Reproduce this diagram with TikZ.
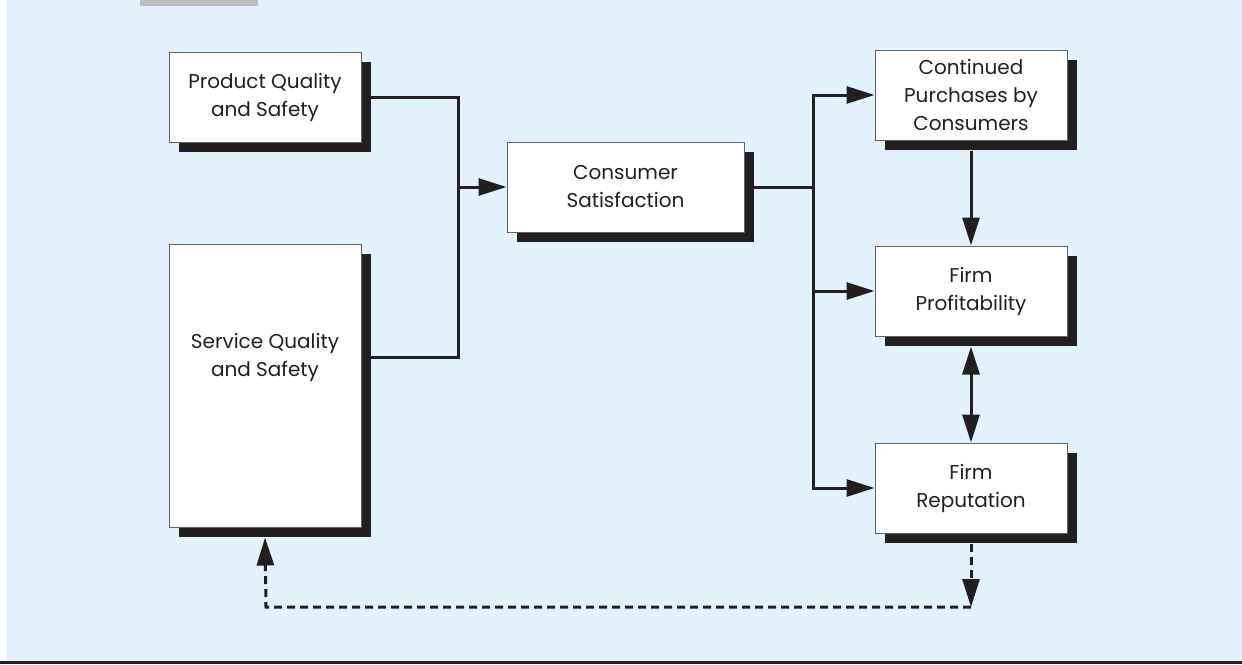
\documentclass[tikz,border=0pt]{standalone}
\usepackage{fontspec}
\setmainfont{Poppins}
\usetikzlibrary{arrows.meta,positioning,calc,shadows}
\definecolor{sky}{RGB}{226,242,251}
\definecolor{ink}{RGB}{35,31,32}
\definecolor{edge}{RGB}{95,98,104}
\definecolor{tabgray}{RGB}{190,190,192}
\tikzset{txt/.style={text=ink,align=center,font=\fontsize{10}{14}\selectfont},blk/.style={txt,draw=edge,line width=0.5pt,fill=white,minimum width=96pt,minimum height=45pt,inner sep=2pt,drop shadow={shadow xshift=5pt,shadow yshift=-5pt,fill=ink,opacity=1}},wire/.style={line width=1.5pt,draw=ink},flow/.style={wire,-{Triangle[length=14pt,width=8.5pt]}},dflow/.style={wire,{Triangle[length=14pt,width=8.5pt]}-{Triangle[length=14pt,width=8.5pt]}},back/.style={flow,dash pattern=on 4pt off 2.5pt}}

\begin{document}
\begin{tikzpicture}[x=0.5pt,y=-0.5pt,node distance=52.5pt]
\useasboundingbox (0,0) rectangle (1242,664);
\fill[sky] (7,0) rectangle (1242,661);\fill[ink] (0,661) rectangle (1242,664);\fill[tabgray] (140,0) rectangle (258,6);
% left inputs
\node[blk] (pq) at (265,97) {Product Quality\\and Safety};
\node[blk,minimum height=141.5pt] (svc) at (265,385.5) {};
\node[txt] (svct) at (265,357) {Service Quality\\and Safety};
\node[blk,minimum width=118.5pt] (cs) at (625.5,187) {Consumer\\Satisfaction};
% right column
\node[blk] (cont) at (971,95) {Continued\\Purchases by\\Consumers};
\node[blk,below=of cont] (prof) {Firm\\Profitability};
\node[blk,below=53pt of prof] (rep) {Firm\\Reputation};
\coordinate (jl) at (458,187);\coordinate (jr) at (813,187);\coordinate (dl) at (266,607);
\draw[wire] (pq.east) -| (jl);\draw[wire] (svc.east |- svct) -| (jl);\draw[flow] (jl) -- (cs.west);
\draw[wire] (cs.east) -- (jr);\draw[flow] (jr) |- (cont.west);\draw[flow] (jr) |- (prof.west);\draw[flow] (jr) |- (rep.west);
\draw[flow] ([yshift=-5pt]cont.south) -- (prof.north);\draw[dflow] ([yshift=-5pt]prof.south) -- (rep.north);
\draw[back] ([yshift=-5pt]rep.south) -- (rep.south |- dl);\draw[back] (rep.south |- dl) -- (dl) -- ([yshift=-5pt]svc.south);
\end{tikzpicture}
\end{document}
